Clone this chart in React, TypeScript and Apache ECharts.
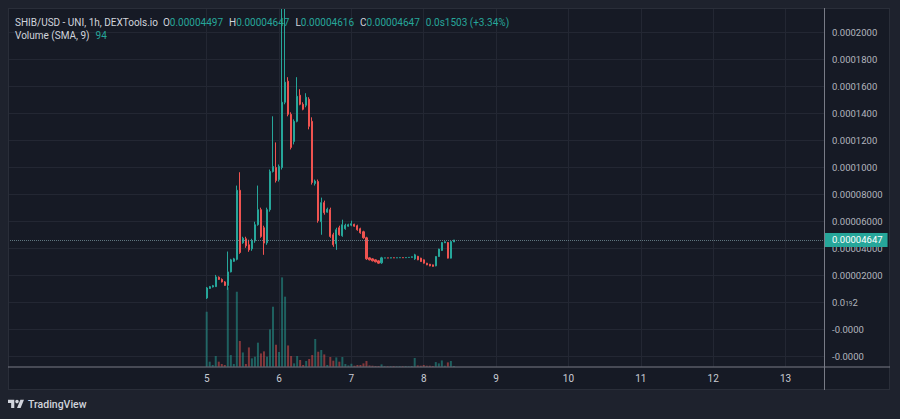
import React, { useEffect, useRef } from "react";
import * as echarts from "echarts";

// ---- data (hourly candles starting day 5 00:00; index = hour offset) ----
const opens = [
  0.349e-5, 1.056e-5, 1.167e-5, 1.19e-5, 1.888e-5, 1.725e-5, 1.539e-5, 1.279e-5, 2.283e-5, 3.063e-5,
  3.212e-5, 8.327e-5, 4.439e-5, 4.736e-5, 4.29e-5, 3.993e-5, 4.587e-5, 5.777e-5, 6.892e-5, 5.554e-5,
  4.439e-5, 6.892e-5, 9.717e-5, 10.015e-5, 9.123e-5, 10.015e-5, 14.848e-5, 16.409e-5, 13.955e-5, 11.948e-5,
  13.435e-5, 15.368e-5, 14.699e-5, 14.625e-5, 15.071e-5, 13.435e-5, 8.825e-5, 8.974e-5, 6.0e-5, 7.413e-5,
  6.706e-5, 6.892e-5, 5.033e-5, 4.364e-5, 5.554e-5, 4.959e-5, 5.48e-5, 5.665e-5, 5.74e-5, 5.814e-5,
  5.703e-5, 5.48e-5, 5.257e-5, 4.81e-5, 3.323e-5, 3.249e-5, 3.175e-5, 3.1e-5, 2.952e-5, 3.31e-5,
  3.32e-5, 3.31e-5, 3.33e-5, 3.32e-5, 3.33e-5, 3.34e-5, 3.33e-5, 3.35e-5, 3.36e-5, 3.249e-5,
  3.435e-5, 3.301e-5, 3.175e-5, 2.929e-5, 2.855e-5, 2.803e-5, 2.729e-5, 3.42e-5, 3.866e-5, 4.439e-5,
  4.461e-5, 3.301e-5, 0.00004497,
];
const closes = [
  1.093e-5, 1.19e-5, 1.264e-5, 1.911e-5, 1.725e-5, 1.539e-5, 1.279e-5, 2.283e-5, 3.175e-5, 3.249e-5,
  8.327e-5, 3.717e-5, 4.773e-5, 4.216e-5, 3.918e-5, 4.587e-5, 5.777e-5, 6.892e-5, 4.907e-5, 4.416e-5,
  6.892e-5, 9.717e-5, 10.089e-5, 9.048e-5, 10.089e-5, 14.848e-5, 16.335e-5, 13.955e-5, 11.502e-5, 13.435e-5,
  15.294e-5, 14.699e-5, 14.327e-5, 15.22e-5, 13.064e-5, 8.9e-5, 9.011e-5, 6.074e-5, 7.413e-5, 6.669e-5,
  6.929e-5, 4.907e-5, 4.29e-5, 5.405e-5, 5.033e-5, 5.777e-5, 5.74e-5, 5.777e-5, 5.851e-5, 5.665e-5,
  5.405e-5, 5.182e-5, 4.81e-5, 3.249e-5, 3.175e-5, 3.1e-5, 3.026e-5, 2.929e-5, 3.323e-5, 3.32e-5,
  3.31e-5, 3.33e-5, 3.32e-5, 3.33e-5, 3.34e-5, 3.33e-5, 3.35e-5, 3.36e-5, 3.4e-5, 3.546e-5,
  3.175e-5, 3.048e-5, 2.929e-5, 2.803e-5, 2.729e-5, 2.691e-5, 3.42e-5, 3.97e-5, 4.461e-5, 4.513e-5,
  3.301e-5, 4.535e-5, 0.00004647,
];
const highs = [
  1.167e-5, 1.242e-5, 1.316e-5, 2.059e-5, 1.948e-5, 1.8e-5, 1.6e-5, 3.792e-5, 3.249e-5, 3.323e-5,
  8.677e-5, 9.665e-5, 4.885e-5, 4.885e-5, 4.662e-5, 4.736e-5, 6.0e-5, 8.677e-5, 7.041e-5, 5.703e-5,
  7.041e-5, 9.866e-5, 13.807e-5, 11.874e-5, 10.238e-5, 23.5e-5, 24.0e-5, 16.706e-5, 14.104e-5, 13.584e-5,
  16.706e-5, 15.814e-5, 14.848e-5, 15.517e-5, 15.22e-5, 13.732e-5, 9.123e-5, 9.123e-5, 7.784e-5, 7.561e-5,
  7.041e-5, 7.041e-5, 5.182e-5, 5.554e-5, 5.703e-5, 6.149e-5, 5.851e-5, 5.851e-5, 6.074e-5, 5.851e-5,
  5.777e-5, 5.554e-5, 5.331e-5, 4.885e-5, 3.361e-5, 3.29e-5, 3.21e-5, 3.14e-5, 3.398e-5, 3.33e-5,
  3.33e-5, 3.34e-5, 3.34e-5, 3.34e-5, 3.35e-5, 3.35e-5, 3.36e-5, 3.37e-5, 3.42e-5, 3.621e-5,
  3.47e-5, 3.33e-5, 3.2e-5, 2.95e-5, 2.87e-5, 2.82e-5, 3.44e-5, 4.0e-5, 4.48e-5, 4.55e-5,
  4.5e-5, 4.56e-5, 0.00004647,
];
const lows = [
  0.275e-5, 1.019e-5, 1.13e-5, 1.167e-5, 1.688e-5, 1.5e-5, 1.25e-5, 0.944e-5, 2.245e-5, 3.026e-5,
  3.138e-5, 3.621e-5, 4.364e-5, 4.067e-5, 3.77e-5, 3.844e-5, 4.439e-5, 5.703e-5, 4.81e-5, 3.547e-5,
  4.29e-5, 6.743e-5, 9.643e-5, 8.9e-5, 8.974e-5, 9.866e-5, 14.699e-5, 13.807e-5, 11.353e-5, 11.725e-5,
  13.361e-5, 14.625e-5, 14.253e-5, 14.476e-5, 12.84e-5, 8.751e-5, 8.677e-5, 5.926e-5, 5.033e-5, 6.52e-5,
  6.669e-5, 4.81e-5, 4.141e-5, 3.918e-5, 4.959e-5, 4.885e-5, 5.405e-5, 5.628e-5, 5.665e-5, 5.628e-5,
  5.331e-5, 5.108e-5, 4.736e-5, 3.175e-5, 3.138e-5, 3.06e-5, 2.99e-5, 2.89e-5, 2.877e-5, 3.3e-5,
  3.3e-5, 3.3e-5, 3.31e-5, 3.31e-5, 3.32e-5, 3.32e-5, 3.32e-5, 3.34e-5, 3.35e-5, 3.175e-5,
  3.15e-5, 3.02e-5, 2.9e-5, 2.78e-5, 2.7e-5, 2.67e-5, 2.7e-5, 3.4e-5, 3.84e-5, 4.42e-5,
  3.28e-5, 3.28e-5, 0.00004616,
];
const volumes = [
  613, 56, 19, 119, 56, 30, 19, 884, 130, 30,
  836, 287, 159, 30, 215, 93, 112, 268, 148, 171,
  112, 416, 669, 245, 164, 996, 781, 237, 119, 37,
  119, 75, 19, 64, 86, 130, 309, 167, 186, 137,
  19, 108, 67, 104, 56, 108, 30, 14, 33, 11,
  19, 19, 37, 64, 14, 11, 8, 8, 26, 6,
  5, 6, 7, 5, 6, 6, 7, 5, 8, 97,
  14, 11, 19, 11, 11, 8, 52, 37, 70, 11,
  48, 64, 8,
];

const priceTicks = [-0.00004, -0.00002, 0, 0.00002, 0.00004, 0.00006, 0.00008, 0.0001, 0.00012, 0.00014, 0.00016, 0.00018, 0.0002];
const priceTickLabels = [
  "-0.0000", "-0.0000", "0.0{s|19}2", "0.00002000", "0.00004000", "0.00006000", "0.00008000",
  "0.0001000", "0.0001200", "0.0001400", "0.0001600", "0.0001800", "0.0002000",
];
const dayTicks = [0, 24, 48, 72, 96, 120, 144, 168, 192];
const dayLabels = ["5", "6", "7", "8", "9", "10", "11", "12", "13"];

const symbolTitle = "SHIB/USD - UNI, 1h, DEXTools.io";
const changeText = "0.0s1503 (+3.34%)";
const volumeTitle = "Volume (SMA, 9)";
const volumeSma = "94";

// ---- style ----
const UP = "#26a69a";
const DOWN = "#ef5350";
const UP_VOL = "rgba(38,166,154,0.5)";
const DOWN_VOL = "rgba(239,83,80,0.5)";
const BG = "#161a25";
const OUTER = "#1e222d";
const GRID = "#232733";
const AXIS_TEXT = "#b2b5be";
const FONT = "Roboto";
const LEGEND_SIZE = 10;

echarts.graphic.registerShape(
  "tvlogo",
  echarts.graphic.extendPath(
    "M14 22H7V11H0V4h14v18zM28 22h-8l7.5-18h8L28 22zM16 8a4 4 0 1 0 8 0a4 4 0 1 0 -8 0z",
    {}
  )
);

export default function App() {
  const ref = useRef<HTMLDivElement>(null);

  useEffect(() => {
    if (!ref.current) return;
    const chart = echarts.init(ref.current, undefined, { renderer: "svg" });

    const candleData = opens.map((o, i) => [i, o, closes[i], lows[i], highs[i]]);
    const volData = volumes.map((v, i) => ({
      value: [i, v],
      itemStyle: { color: closes[i] >= opens[i] ? UP_VOL : DOWN_VOL },
    }));
    const last = opens.length - 1;
    const lastClose = closes[last];

    const priceLabel = (v: number) => {
      const i = priceTicks.findIndex((t) => Math.abs(t - v) < 1e-10);
      return i >= 0 ? priceTickLabels[i] : "";
    };
    const dayLabel = (v: number) => {
      const i = dayTicks.findIndex((t) => Math.abs(t - v) < 1e-6);
      return i >= 0 ? dayLabels[i] : "";
    };

    const legendRich = {
      t: { fill: "#d1d4dc", fontSize: LEGEND_SIZE, fontFamily: FONT, padding: [0, 5, 0, 0] },
      g: { fill: "#d1d4dc", fontSize: LEGEND_SIZE, fontFamily: FONT },
      v: { fill: UP, fontSize: LEGEND_SIZE, fontFamily: FONT, padding: [0, 6, 0, 0] },
    };

    chart.setOption({
      animation: false,
      backgroundColor: BG,
      textStyle: { fontFamily: FONT },
      grid: { left: 8, top: 8, right: 76, bottom: 52.3, containLabel: false },
      xAxis: {
        type: "value",
        min: -65.91,
        max: 204.77,
        axisLine: { show: false },
        axisTick: { show: false, customValues: dayTicks },
        axisLabel: {
          customValues: dayTicks,
          formatter: dayLabel,
          color: "#c8cbd3",
          fontSize: 10,
          fontFamily: FONT,
          margin: 7,
        },
        splitLine: { show: true, lineStyle: { color: GRID, width: 1 } },
      },
      yAxis: [
        {
          type: "value",
          position: "right",
          min: -0.0000474,
          max: 0.0002183,
          axisLine: { show: false },
          axisTick: { show: false, customValues: priceTicks },
          axisLabel: {
            customValues: priceTicks,
            formatter: priceLabel,
            color: AXIS_TEXT,
            fontSize: 9.5,
            fontFamily: FONT,
            margin: 8,
            rich: { s: { fontSize: 6.5, color: AXIS_TEXT, fontFamily: FONT, padding: [3, 0, 0, 0] } },
          },
          splitLine: { show: true, lineStyle: { color: GRID, width: 1 } },
        },
        {
          type: "value",
          show: false,
          min: 0,
          max: 4000,
          splitLine: { show: false },
        },
      ],
      series: [
        {
          type: "bar",
          yAxisIndex: 1,
          data: volData,
          barWidth: 2,
          z: 1,
          silent: true,
        },
        {
          type: "candlestick",
          data: candleData,
          encode: { x: 0, y: [1, 2, 3, 4] },
          barWidth: 1.6,
          clip: true,
          z: 3,
          itemStyle: {
            color: UP,
            color0: DOWN,
            borderColor: UP,
            borderColor0: DOWN,
            borderWidth: 1,
          },
          markLine: {
            silent: true,
            precision: 10,
            symbol: ["none", "none"],
            data: [{ yAxis: lastClose }],
            lineStyle: { color: "rgba(120,150,158,0.75)", type: "dotted", width: 1 },
            label: {
              show: true,
              position: "end",
              distance: 0,
              formatter: () => lastClose.toFixed(8),
              color: "#ffffff",
              backgroundColor: UP,
              fontSize: 9.5,
              fontFamily: FONT,
              lineHeight: 11,
              padding: [2, 5, 1, 8],
            },
          },
        },
      ],
      graphic: [
        // outer strips
        { type: "rect", shape: { x: 0, y: 0, width: 900, height: 8 }, style: { fill: OUTER }, z: 50, silent: true },
        { type: "rect", shape: { x: 0, y: 0, width: 8, height: 419 }, style: { fill: OUTER }, z: 50, silent: true },
        { type: "rect", shape: { x: 890, y: 0, width: 10, height: 419 }, style: { fill: OUTER }, z: 50, silent: true },
        { type: "rect", shape: { x: 0, y: 390, width: 900, height: 29 }, style: { fill: OUTER }, z: 50, silent: true },
        // panel borders
        { type: "line", shape: { x1: 8, y1: 8.5, x2: 890, y2: 8.5 }, style: { stroke: "#2a2e39", lineWidth: 1 }, z: 51, silent: true },
        { type: "line", shape: { x1: 8.5, y1: 8, x2: 8.5, y2: 390 }, style: { stroke: "#2a2e39", lineWidth: 1 }, z: 51, silent: true },
        { type: "line", shape: { x1: 8, y1: 389.5, x2: 890, y2: 389.5 }, style: { stroke: "#2a2e39", lineWidth: 1 }, z: 51, silent: true },
        { type: "line", shape: { x1: 889.5, y1: 8, x2: 889.5, y2: 390 }, style: { stroke: "#2a2e39", lineWidth: 1 }, z: 51, silent: true },
        // axis separators
        { type: "line", shape: { x1: 824.5, y1: 8, x2: 824.5, y2: 390 }, style: { stroke: "#787b86", lineWidth: 1 }, z: 51, silent: true },
        { type: "line", shape: { x1: 8, y1: 367, x2: 890, y2: 367 }, style: { stroke: "#787b86", lineWidth: 1 }, z: 51, silent: true },
        // legend
        {
          type: "text",
          x: 15,
          y: 22,
          z: 60,
          silent: true,
          style: {
            text:
              `{t|${symbolTitle}}{g|O}{v|${opens[last].toFixed(8)}}{g|H}{v|${highs[last].toFixed(8)}}` +
              `{g|L}{v|${lows[last].toFixed(8)}}{g|C}{v|${closes[last].toFixed(8)}}{v|${changeText}}`,
            rich: legendRich,
            verticalAlign: "middle",
            align: "left",
          },
        },
        {
          type: "text",
          x: 15,
          y: 35.5,
          z: 60,
          silent: true,
          style: {
            text: `{t|${volumeTitle}}{v|${volumeSma}}`,
            rich: {
              t: { fill: "#d1d4dc", fontSize: LEGEND_SIZE, fontFamily: FONT, padding: [0, 6, 0, 0] },
              v: { fill: UP, fontSize: LEGEND_SIZE, fontFamily: FONT },
            },
            verticalAlign: "middle",
            align: "left",
          },
        },
        // TradingView logo
        { type: "tvlogo", x: 8, y: 398, scaleX: 0.45, scaleY: 0.45, z: 60, silent: true, style: { fill: "#d1d4dc" } },
        {
          type: "text",
          x: 28,
          y: 404,
          z: 60,
          silent: true,
          style: {
            text: "TradingView",
            fill: "#d1d4dc",
            fontSize: 10.5,
            fontFamily: FONT,
            fontWeight: 500,
            verticalAlign: "middle",
            align: "left",
          },
        },
      ],
    });

    return () => chart.dispose();
  }, []);

  return (
    <div
      ref={ref}
      style={{ position: "fixed", left: 0, top: 0, width: 900, height: 419 }}
    />
  );
}
